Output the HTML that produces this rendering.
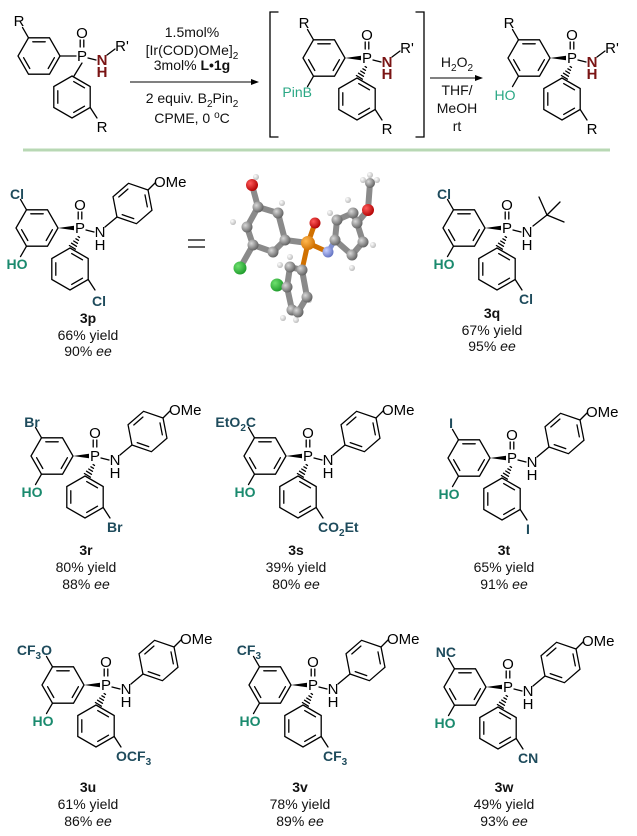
<!DOCTYPE html>
<html><head><meta charset="utf-8"><style>
html,body{margin:0;padding:0;background:#fff;}
svg{display:block;font-family:"Liberation Sans",Arial,sans-serif;}
.a{font-size:15px;fill:#000;text-anchor:middle;}
.s{font-size:14px;font-weight:bold;fill:#1e4b5c;}
.ho{font-size:14px;font-weight:bold;fill:#1a8a6e;text-anchor:middle;}
.lb{font-size:14px;text-anchor:middle;fill:#111;}
.b{stroke:#000;stroke-width:1.3;fill:none;stroke-linecap:round;}
.nr{fill:#7a1414;font-weight:bold;}
</style></head><body>
<svg width="637" height="836" viewBox="0 0 637 836" xmlns="http://www.w3.org/2000/svg">
<defs>
<g id="ringP" class="b">
<polygon points="0,-21 18.2,-10.5 18.2,10.5 0,21 -18.2,10.5 -18.2,-10.5"/>
<line x1="1.7" y1="-15.4" x2="12.5" y2="-9.2"/><line x1="12.5" y1="9.2" x2="1.7" y2="15.4"/><line x1="-14.2" y1="6.2" x2="-14.2" y2="-6.2"/>
</g>
<g id="ringF" class="b">
<polygon points="21,0 10.5,18.2 -10.5,18.2 -21,0 -10.5,-18.2 10.5,-18.2"/>
<line x1="15.4" y1="1.7" x2="9.2" y2="12.5"/><line x1="-9.2" y1="12.5" x2="-15.4" y2="1.7"/><line x1="-6.2" y1="-14.2" x2="6.2" y2="-14.2"/>
</g>
<g id="skel">
<g class="b">
<line x1="-1.8" y1="-15" x2="-1.8" y2="-8"/><line x1="1.8" y1="-15" x2="1.8" y2="-8"/>
<line x1="-53.5" y1="-17.2" x2="-59.5" y2="-27.6"/>
<line x1="8.2" y1="52.5" x2="15" y2="63"/>
<line x1="6" y1="3" x2="14" y2="5"/>
</g>
<use href="#ringF" transform="translate(-43,1)"/>
<use href="#ringP" transform="translate(-10,42)"/>
</g>
<g id="stereo">
<g class="b">
<line x1="-1.9" y1="9.5" x2="-0.5" y2="10.4"/><line x1="-4.1" y1="11.8" x2="-1.5" y2="13.3"/><line x1="-6.3" y1="14" x2="-2.5" y2="16.3"/><line x1="-8.5" y1="16.2" x2="-3.5" y2="19.3"/><line x1="-10.6" y1="18.5" x2="-4.6" y2="22.2"/>
</g>
<polygon points="-22,1 -6,-1.2 -6,3.2" fill="#000"/>
</g>
<line id="hob" class="b" x1="-53.5" y1="19.2" x2="-59.5" y2="29.6"/>
<g id="core"><use href="#skel"/><use href="#stereo"/><use href="#hob"/></g>
<g id="anis">
<line class="b" x1="25" y1="0" x2="37" y2="-10"/>
<use href="#ringF" transform="translate(52.5,-23.5) rotate(-41) scale(0.98)"/>
<line class="b" x1="68" y1="-37" x2="75" y2="-44"/>
</g>
<radialGradient id="gC" cx="35%" cy="35%" r="70%"><stop offset="0" stop-color="#d8d8d8"/><stop offset="1" stop-color="#5e5e5e"/></radialGradient>
<radialGradient id="gO" cx="35%" cy="35%" r="70%"><stop offset="0" stop-color="#ff5a5a"/><stop offset="1" stop-color="#b00000"/></radialGradient>
<radialGradient id="gCl" cx="35%" cy="35%" r="70%"><stop offset="0" stop-color="#6ee06e"/><stop offset="1" stop-color="#1d9a2a"/></radialGradient>
<radialGradient id="gP" cx="35%" cy="35%" r="70%"><stop offset="0" stop-color="#ffb850"/><stop offset="1" stop-color="#d07000"/></radialGradient>
<radialGradient id="gN" cx="35%" cy="35%" r="70%"><stop offset="0" stop-color="#c8d0ff"/><stop offset="1" stop-color="#6070c0"/></radialGradient>
<radialGradient id="gH" cx="35%" cy="35%" r="70%"><stop offset="0" stop-color="#ffffff"/><stop offset="1" stop-color="#b8b8b8"/></radialGradient>
</defs>

<!-- ===== top scheme ===== -->
<g transform="translate(82,55)">
<use href="#skel"/>
<line class="b" x1="-22" y1="1" x2="-6" y2="1"/><line class="b" x1="0" y1="8" x2="-8" y2="21"/>
<line class="b" x1="25" y1="0" x2="33" y2="-6"/>
<text class="a" x="0" y="6">P</text><text class="a" x="0" y="-17">O</text>
<text class="a" x="-63" y="-29">R</text><text class="a" x="20" y="77">R</text>
<text class="a nr" x="20" y="10">N</text><text class="a nr" x="20" y="22">H</text><text class="a" x="40" y="-4">R'</text>
</g>
<line x1="130" y1="82" x2="253" y2="82" stroke="#000" stroke-width="1.1"/>
<polygon points="259,82 251,79 251,85" fill="#000"/>
<g class="lb">
<text x="192" y="37">1.5mol%</text>
<text x="192" y="55">[Ir(COD)OMe]<tspan font-size="10" dy="4">2</tspan></text>
<text x="192" y="70">3mol% <tspan font-weight="bold">L•1g</tspan></text>
<text x="192" y="103">2 equiv. B<tspan font-size="10" dy="4">2</tspan><tspan dy="-4">Pin</tspan><tspan font-size="10" dy="4">2</tspan></text>
<text x="192" y="123">CPME, 0 <tspan font-size="10" dy="-5">o</tspan><tspan dy="5">C</tspan></text>
</g>
<g class="b" style="stroke-width:1.3">
<polyline points="278,12 270,12 270,137 278,137"/>
<polyline points="416,12 424,12 424,137 416,137"/>
</g>
<g transform="translate(367,57)">
<use href="#core"/>
<line class="b" x1="25" y1="0" x2="33" y2="-6"/>
<text class="a" x="0" y="6">P</text><text class="a" x="0" y="-17">O</text>
<text class="a" x="-63" y="-29">R</text><text class="a" x="20" y="77">R</text>
<text class="a nr" x="20" y="10">N</text><text class="a nr" x="20" y="22">H</text><text class="a" x="40" y="-4">R'</text>
<text x="-55" y="40" style="font-size:14px;fill:#2aa784;text-anchor:end">PinB</text>
</g>
<line x1="430" y1="78" x2="477" y2="78" stroke="#000" stroke-width="1.1"/>
<polygon points="483,78 475,75 475,81" fill="#000"/>
<g class="lb">
<text x="457" y="67">H<tspan font-size="10" dy="4">2</tspan><tspan dy="-4">O</tspan><tspan font-size="10" dy="4">2</tspan></text>
<text x="457" y="95">THF/</text>
<text x="457" y="113">MeOH</text>
<text x="457" y="131">rt</text>
</g>
<g transform="translate(572,57)">
<use href="#core"/>
<line class="b" x1="25" y1="0" x2="33" y2="-6"/>
<text class="a" x="0" y="6">P</text><text class="a" x="0" y="-17">O</text>
<text class="a" x="-63" y="-29">R</text><text class="a" x="20" y="77">R</text>
<text class="a nr" x="20" y="10">N</text><text class="a nr" x="20" y="22">H</text><text class="a" x="40" y="-4">R'</text>
<text x="-67" y="43" style="font-size:14px;fill:#2aa784;text-anchor:middle">HO</text>
</g>
<line x1="23" y1="150" x2="610" y2="150" stroke="#b8d8b4" stroke-width="3"/>

<!-- ===== 3p ===== -->
<g transform="translate(80,227)">
<use href="#core"/><use href="#anis"/>
<text class="a" x="0" y="6">P</text><text class="a" x="0" y="-17">O</text><text class="a" x="20" y="10">N</text><text class="a" x="20" y="23">H</text>
<text class="a" x="74" y="-40" style="text-anchor:start">OMe</text>
<text class="s" x="-63" y="-28" text-anchor="middle">Cl</text>
<text class="ho" x="-63" y="42">HO</text>
<text class="s" x="12" y="79">Cl</text>
</g>
<text class="lb" x="88" y="323" font-weight="bold">3p</text>
<text class="lb" x="88" y="340">66% yield</text>
<text class="lb" x="88" y="356">90% <tspan font-style="italic">ee</tspan></text>

<line x1="188" y1="240" x2="205" y2="240" stroke="#000" stroke-width="1.3"/>
<line x1="188" y1="247" x2="205" y2="247" stroke="#000" stroke-width="1.3"/>

<!-- crystal structure -->
<g stroke="#8a8a8a" stroke-width="6" stroke-linecap="round" fill="none">
<polyline points="258,207 278,213 285,240 273,252 253,245 247,227 258,207"/>
<line x1="258" y1="207" x2="252" y2="185"/><line x1="253" y1="245" x2="240" y2="268"/>
<line x1="285" y1="240" x2="308" y2="243"/>
<polyline points="335,240 337,220 353,213 357,223 363,242 352,255 335,240"/>
<line x1="357" y1="223" x2="368" y2="210"/><line x1="368" y1="210" x2="370" y2="183"/>
<polyline points="302,270 290,267 287,287 292,310 298,312 307,297 302,270"/>
<line x1="287" y1="287" x2="277" y2="285"/>
</g>
<g stroke="#d07000" stroke-width="5" stroke-linecap="round">
<line x1="308" y1="243" x2="315" y2="223"/><line x1="308" y1="243" x2="328" y2="252"/><line x1="308" y1="243" x2="302" y2="270"/>
</g>
<line x1="328" y1="252" x2="335" y2="240" stroke="#8090d0" stroke-width="5"/>
<g fill="url(#gH)">
<circle cx="256" cy="177" r="3"/><circle cx="282" cy="203" r="3"/><circle cx="233" cy="222" r="3"/><circle cx="280" cy="265" r="3"/>
<circle cx="290" cy="257" r="3"/><circle cx="330" cy="213" r="3"/><circle cx="348" cy="200" r="3"/><circle cx="373" cy="245" r="3"/>
<circle cx="352" cy="268" r="3"/><circle cx="363" cy="180" r="3"/><circle cx="377" cy="180" r="3"/><circle cx="370" cy="175" r="3"/>
<circle cx="309" cy="300" r="3"/><circle cx="283" cy="318" r="3"/><circle cx="296" cy="320" r="3"/>
</g>
<g>
<circle cx="252" cy="185" r="6" fill="url(#gO)"/><circle cx="315" cy="223" r="5.5" fill="url(#gO)"/><circle cx="368" cy="210" r="6" fill="url(#gO)"/>
<circle cx="240" cy="268" r="6.5" fill="url(#gCl)"/><circle cx="277" cy="285" r="6.5" fill="url(#gCl)"/>
<circle cx="308" cy="243" r="7" fill="url(#gP)"/><circle cx="328" cy="252" r="5.5" fill="url(#gN)"/>
<circle cx="258" cy="207" r="5.5" fill="url(#gC)"/><circle cx="278" cy="213" r="5.5" fill="url(#gC)"/><circle cx="285" cy="240" r="5.5" fill="url(#gC)"/><circle cx="273" cy="252" r="5.5" fill="url(#gC)"/><circle cx="253" cy="245" r="5.5" fill="url(#gC)"/><circle cx="247" cy="227" r="5.5" fill="url(#gC)"/>
<circle cx="335" cy="240" r="5.5" fill="url(#gC)"/><circle cx="337" cy="220" r="5.5" fill="url(#gC)"/><circle cx="353" cy="213" r="5.5" fill="url(#gC)"/><circle cx="357" cy="223" r="5.5" fill="url(#gC)"/><circle cx="363" cy="242" r="5.5" fill="url(#gC)"/><circle cx="352" cy="255" r="5.5" fill="url(#gC)"/><circle cx="370" cy="183" r="5" fill="url(#gC)"/>
<circle cx="302" cy="270" r="5.5" fill="url(#gC)"/><circle cx="290" cy="267" r="5.5" fill="url(#gC)"/><circle cx="287" cy="287" r="5.5" fill="url(#gC)"/><circle cx="292" cy="310" r="5.5" fill="url(#gC)"/><circle cx="298" cy="312" r="5.5" fill="url(#gC)"/><circle cx="307" cy="297" r="5.5" fill="url(#gC)"/>
</g>

<!-- ===== 3q ===== -->
<g transform="translate(507,227)">
<use href="#core"/>
<g class="b"><line x1="26" y1="-1" x2="40" y2="-12"/><line x1="40" y1="-12" x2="32" y2="-30"/><line x1="40" y1="-12" x2="53" y2="-25"/><line x1="40" y1="-12" x2="57" y2="-5"/></g>
<text class="a" x="0" y="6">P</text><text class="a" x="0" y="-17">O</text><text class="a" x="20" y="10">N</text><text class="a" x="20" y="23">H</text>
<text class="s" x="-63" y="-28" text-anchor="middle">Cl</text>
<text class="ho" x="-63" y="42">HO</text>
<text class="s" x="12" y="77">Cl</text>
</g>
<text class="lb" x="492" y="318" font-weight="bold">3q</text>
<text class="lb" x="492" y="335">67% yield</text>
<text class="lb" x="492" y="351">95% <tspan font-style="italic">ee</tspan></text>

<!-- ===== 3r ===== -->
<g transform="translate(95,455)">
<use href="#core"/><use href="#anis"/>
<text class="a" x="0" y="6">P</text><text class="a" x="0" y="-17">O</text><text class="a" x="20" y="10">N</text><text class="a" x="20" y="23">H</text>
<text class="a" x="74" y="-40" style="text-anchor:start">OMe</text>
<text class="s" x="-63" y="-28" text-anchor="middle">Br</text>
<text class="ho" x="-63" y="42">HO</text>
<text class="s" x="12" y="77">Br</text>
</g>
<text class="lb" x="86" y="555" font-weight="bold">3r</text>
<text class="lb" x="86" y="572">80% yield</text>
<text class="lb" x="86" y="589">88% <tspan font-style="italic">ee</tspan></text>

<!-- ===== 3s ===== -->
<g transform="translate(308,455)">
<use href="#core"/><use href="#anis"/>
<text class="a" x="0" y="6">P</text><text class="a" x="0" y="-17">O</text><text class="a" x="20" y="10">N</text><text class="a" x="20" y="23">H</text>
<text class="a" x="74" y="-40" style="text-anchor:start">OMe</text>
<text class="s" x="-52" y="-28" text-anchor="end">EtO<tspan font-size="10" dy="4">2</tspan><tspan dy="-4">C</tspan></text>
<text class="ho" x="-63" y="42">HO</text>
<text class="s" x="10" y="77">CO<tspan font-size="10" dy="4">2</tspan><tspan dy="-4">Et</tspan></text>
</g>
<text class="lb" x="296" y="555" font-weight="bold">3s</text>
<text class="lb" x="296" y="572">39% yield</text>
<text class="lb" x="296" y="589">80% <tspan font-style="italic">ee</tspan></text>

<!-- ===== 3t ===== -->
<g transform="translate(512,457)">
<use href="#core"/><use href="#anis"/>
<text class="a" x="0" y="6">P</text><text class="a" x="0" y="-17">O</text><text class="a" x="20" y="10">N</text><text class="a" x="20" y="23">H</text>
<text class="a" x="74" y="-40" style="text-anchor:start">OMe</text>
<text class="s" x="-61" y="-29" text-anchor="middle">I</text>
<text class="ho" x="-63" y="42">HO</text>
<text class="s" x="14" y="77">I</text>
</g>
<text class="lb" x="504" y="555" font-weight="bold">3t</text>
<text class="lb" x="504" y="572">65% yield</text>
<text class="lb" x="504" y="589">91% <tspan font-style="italic">ee</tspan></text>

<!-- ===== 3u ===== -->
<g transform="translate(106,684)">
<use href="#core"/><use href="#anis"/>
<text class="a" x="0" y="6">P</text><text class="a" x="0" y="-17">O</text><text class="a" x="20" y="10">N</text><text class="a" x="20" y="23">H</text>
<text class="a" x="74" y="-40" style="text-anchor:start">OMe</text>
<text class="s" x="-54" y="-29" text-anchor="end">CF<tspan font-size="10" dy="4">3</tspan><tspan dy="-4">O</tspan></text>
<text class="ho" x="-63" y="42">HO</text>
<text class="s" x="10" y="77">OCF<tspan font-size="10" dy="4">3</tspan></text>
</g>
<text class="lb" x="88" y="792" font-weight="bold">3u</text>
<text class="lb" x="88" y="809">61% yield</text>
<text class="lb" x="88" y="826">86% <tspan font-style="italic">ee</tspan></text>

<!-- ===== 3v ===== -->
<g transform="translate(313,684)">
<use href="#core"/><use href="#anis"/>
<text class="a" x="0" y="6">P</text><text class="a" x="0" y="-17">O</text><text class="a" x="20" y="10">N</text><text class="a" x="20" y="23">H</text>
<text class="a" x="74" y="-40" style="text-anchor:start">OMe</text>
<text class="s" x="-52" y="-29" text-anchor="end">CF<tspan font-size="10" dy="4">3</tspan></text>
<text class="ho" x="-63" y="42">HO</text>
<text class="s" x="10" y="77">CF<tspan font-size="10" dy="4">3</tspan></text>
</g>
<text class="lb" x="300" y="792" font-weight="bold">3v</text>
<text class="lb" x="300" y="809">78% yield</text>
<text class="lb" x="300" y="826">89% <tspan font-style="italic">ee</tspan></text>

<!-- ===== 3w ===== -->
<g transform="translate(508,686)">
<use href="#core"/><use href="#anis"/>
<text class="a" x="0" y="6">P</text><text class="a" x="0" y="-17">O</text><text class="a" x="20" y="10">N</text><text class="a" x="20" y="23">H</text>
<text class="a" x="74" y="-40" style="text-anchor:start">OMe</text>
<text class="s" x="-52" y="-29" text-anchor="end">NC</text>
<text class="ho" x="-63" y="42">HO</text>
<text class="s" x="10" y="77">CN</text>
</g>
<text class="lb" x="504" y="792" font-weight="bold">3w</text>
<text class="lb" x="504" y="809">49% yield</text>
<text class="lb" x="504" y="826">93% <tspan font-style="italic">ee</tspan></text>
</svg>
</body></html>
